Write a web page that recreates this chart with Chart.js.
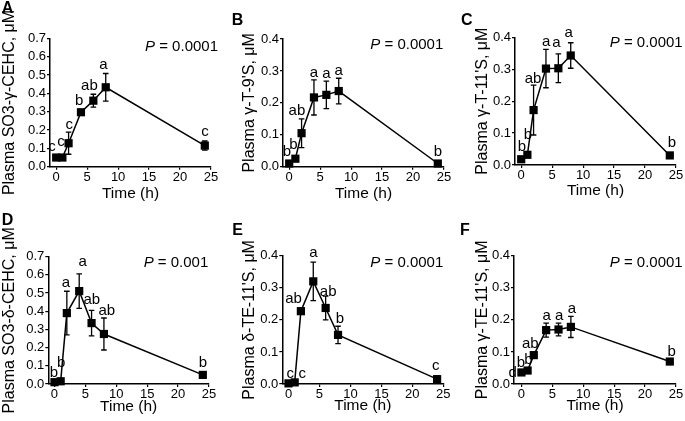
<!DOCTYPE html>
<html><head><meta charset="utf-8">
<script src="https://cdn.jsdelivr.net/npm/chart.js@4/dist/chart.umd.min.js"></script>
<style>
html,body{margin:0;padding:0;background:#fff;}
#wrap{position:relative;width:685px;height:421px;overflow:hidden;background:#fff;}
canvas{position:absolute;}
</style></head>
<body><div id="wrap"></div>
<script>
// ---------- data ----------
const times = [0, 1, 2, 4, 6, 8, 24];
const xTicks = [0, 5, 10, 15, 20, 25];
const yTicks07 = [0, 0.1, 0.2, 0.3, 0.4, 0.5, 0.6, 0.7];
const yTicks04 = [0, 0.1, 0.2, 0.3, 0.4];

const valuesA = [0.05, 0.05, 0.128, 0.297, 0.36, 0.433, 0.115];
const errorsA = [0.006, 0.006, 0.06, 0.01, 0.035, 0.075, 0.025];
const lettersA = ['c', 'c', 'c', 'b', 'ab', 'a', 'c'];
const letterIdxA = [0, 1, 2, 3, 4, 5, 6];

const valuesB = [0.01, 0.025, 0.105, 0.217, 0.225, 0.237, 0.01];
const errorsB = [0.005, 0.005, 0.045, 0.055, 0.043, 0.04, 0.004];
const lettersB = ['b', 'b', 'ab', 'a', 'a', 'a', 'b'];
const letterIdxB = [0, 1, 2, 3, 4, 5, 6];

const valuesC = [0.018, 0.032, 0.172, 0.302, 0.303, 0.343, 0.03];
const errorsC = [0.006, 0.006, 0.078, 0.06, 0.045, 0.04, 0.005];
const lettersC = ['b', 'b', 'ab', 'a', 'a', 'a', 'b'];
const letterIdxC = [0, 1, 2, 3, 4, 5, 6];

const valuesD = [0.01, 0.015, 0.39, 0.511, 0.335, 0.275, 0.05];
const errorsD = [0.005, 0.005, 0.12, 0.095, 0.07, 0.088, 0.008];
const lettersD = ['b', 'b', 'a', 'a', 'ab', 'ab', 'b'];
const letterIdxD = [0, 1, 2, 3, 4, 5, 6];

const valuesE = [0.002, 0.005, 0.227, 0.32, 0.237, 0.153, 0.015];
const errorsE = [0.003, 0.003, 0.01, 0.06, 0.037, 0.027, 0.01];
const lettersE = ['c', 'c', 'ab', 'a', 'ab', 'b', 'c'];
const letterIdxE = [0, 1, 2, 3, 4, 5, 6];

const valuesF = [0.036, 0.042, 0.09, 0.168, 0.17, 0.178, 0.07];
const errorsF = [0.004, 0.005, 0.007, 0.022, 0.02, 0.033, 0.006];
const lettersF = ['d', 'b', 'b', 'ab', 'a', 'a', 'a', 'b'];
const letterIdxF = [0, 0, 1, 2, 3, 4, 5, 6];

const panels = [
  {tag:'A', yTitle:'Plasma SO3-\u03b3-CEHC, \u03bcM', pText:'= 0.0001', yMax:0.7, yTicks:yTicks07, values:valuesA, errors:errorsA, letters:lettersA, letterIdx:letterIdxA},
  {tag:'B', yTitle:"Plasma \u03b3-T-9'S, \u03bcM", pText:'= 0.0001', yMax:0.4, yTicks:yTicks04, values:valuesB, errors:errorsB, letters:lettersB, letterIdx:letterIdxB},
  {tag:'C', yTitle:"Plasma \u03b3-T-11'S, \u03bcM", pText:'= 0.0001', yMax:0.4, yTicks:yTicks04, values:valuesC, errors:errorsC, letters:lettersC, letterIdx:letterIdxC},
  {tag:'D', yTitle:'Plasma SO3-\u03b4-CEHC, \u03bcM', pText:'= 0.001', yMax:0.7, yTicks:yTicks07, values:valuesD, errors:errorsD, letters:lettersD, letterIdx:letterIdxD},
  {tag:'E', yTitle:"Plasma \u03b4-TE-11'S, \u03bcM", pText:'= 0.0001', yMax:0.4, yTicks:yTicks04, values:valuesE, errors:errorsE, letters:lettersE, letterIdx:letterIdxE},
  {tag:'F', yTitle:"Plasma \u03b3-TE-11'S, \u03bcM", pText:'= 0.0001', yMax:0.4, yTicks:yTicks04, values:valuesF, errors:errorsF, letters:lettersF, letterIdx:letterIdxF}
];

// ---------- layout (positions / styles only) ----------
const layouts = [
  {x:0,   y:0,   w:228, h:210, left:50,   right:211,   top:38.3, bottom:166.7, xMin:-1,   yTitleC:10, xTitleC:194,   pRight:218,   pY:47,   tagX:1.7, tagY:13,
   off:[[-4.3,-2.6],[-1.5,-7.6],[0.6,-3.2],[-1.8,-3.2],[-3.9,-3.8],[-2.3,-4.4],[0.2,-4.7]]},
  {x:228, y:0,   w:228, h:210, left:55,   right:216,   top:39,   bottom:166.7, xMin:-1,   yTitleC:22, xTitleC:193.5, pRight:215.3, pY:45,   tagX:3.7, tagY:25,
   off:[[-2.3,-3.8],[-2,-5.7],[-4.7,-4.1],[0,-3],[0,-3],[0,-3],[0,-3]]},
  {x:456, y:0,   w:229, h:210, left:59,   right:220,   top:37.3, bottom:165,   xMin:-1,   yTitleC:27, xTitleC:191,   pRight:226.7, pY:43.3, tagX:5,   tagY:25,
   off:[[0.8,-4.6],[0.6,-12],[-0.6,-2.2],[0.2,-3],[-1.9,-7],[-2,-5.4],[2.2,-4]]},
  {x:0,   y:210, w:228, h:211, left:48.3, right:209,   top:46.7, bottom:174,   xMin:-1,   yTitleC:10, xTitleC:196.5, pRight:208.3, pY:53.3, tagX:1.7, tagY:15,
   off:[[-0.6,-1],[0.5,-10],[-1,-4.7],[3.4,-7.4],[0.2,-6.5],[2.8,-3],[0,-3.7]]},
  {x:228, y:210, w:228, h:211, left:54.3, right:215.3, top:45.7, bottom:174,   xMin:-1,   yTitleC:22, xTitleC:195.5, pRight:215.3, pY:53.3, tagX:4.3, tagY:25,
   off:[[1.7,-1.2],[7.5,-0.2],[-7.4,-4.2],[0.2,-4.8],[2.5,-0.6],[2,-3.6],[-1.3,-5]]},
  {x:456, y:210, w:229, h:211, left:58,   right:220,   top:45.7, bottom:174,   xMin:-1.2, yTitleC:27, xTitleC:195.5, pRight:226.7, pY:53.3, tagX:4,   tagY:25,
   off:[[-8.7,8.7],[-0.4,-1.3],[0.8,-2.8],[-3.5,-2.9],[0.6,-3],[0.6,-3],[1,-3.1],[1.9,-1.3]]}
];

const FONT = '"Liberation Sans", Arial, Helvetica, sans-serif';
const INK = '#000';
const MARK_HALF = 4.1;

const annot = {
  id: 'annot',
  beforeDatasetsDraw(chart, args, opts) {
    const p = opts.panel;
    const xs = chart.scales.x, ys = chart.scales.y, ctx = chart.ctx;
    ctx.save();
    ctx.strokeStyle = INK; ctx.lineWidth = 1.3;
    times.forEach((t, i) => {
      const x = xs.getPixelForValue(t);
      const y1 = ys.getPixelForValue(p.values[i] + p.errors[i]);
      const y2 = ys.getPixelForValue(p.values[i] - p.errors[i]);
      ctx.beginPath();
      ctx.moveTo(x, y1); ctx.lineTo(x, y2);
      ctx.moveTo(x - 2.8, y1); ctx.lineTo(x + 2.8, y1);
      ctx.moveTo(x - 2.8, y2); ctx.lineTo(x + 2.8, y2);
      ctx.stroke();
    });
    ctx.restore();
  },
  afterDatasetsDraw(chart, args, opts) {
    const p = opts.panel, L = opts.lay;
    const xs = chart.scales.x, ys = chart.scales.y, ctx = chart.ctx;
    ctx.save();
    ctx.fillStyle = INK;
    // significance letters
    ctx.font = '15px ' + FONT;
    ctx.textAlign = 'center'; ctx.textBaseline = 'alphabetic';
    p.letters.forEach((txt, k) => {
      const i = p.letterIdx[k];
      const x = xs.getPixelForValue(times[i]);
      const yc = ys.getPixelForValue(p.values[i]);
      const ye = ys.getPixelForValue(p.values[i] + p.errors[i]);
      const base = Math.min(ye, yc - MARK_HALF);
      const o = L.off[k] || [0, -3];
      ctx.fillText(txt, x + o[0], base + o[1]);
    });
    // P value
    ctx.textBaseline = 'middle'; ctx.textAlign = 'right';
    ctx.font = '15px ' + FONT;
    const rest = ' ' + p.pText;
    ctx.fillText(rest, L.pRight, L.pY);
    const wRest = ctx.measureText(rest).width;
    ctx.font = 'italic 15px ' + FONT;
    ctx.fillText('P', L.pRight - wRest, L.pY);
    // panel tag
    ctx.textAlign = 'left'; ctx.textBaseline = 'alphabetic';
    ctx.font = 'bold 16px ' + FONT;
    ctx.fillText(p.tag, L.tagX, L.tagY);
    ctx.restore();
  }
};

const wrap = document.getElementById('wrap');
const Y_TITLE = 16, X_TITLE = 15.5;

panels.forEach((p, n) => {
  const L = layouts[n];
  const c = document.createElement('canvas');
  c.width = L.w; c.height = L.h;
  c.style.left = L.x + 'px'; c.style.top = L.y + 'px';
  c.style.width = L.w + 'px'; c.style.height = L.h + 'px';
  wrap.appendChild(c);
  const axisCommon = {
    grid: {display: true, drawOnChartArea: false, drawTicks: true, tickLength: 3, color: INK, lineWidth: 1.2},
    border: {display: true, color: INK, width: 1.5}
  };
  new Chart(c, {
    type: 'scatter',
    data: {datasets: [{
      data: times.map((t, i) => ({x: t, y: p.values[i]})),
      showLine: true, borderColor: INK, borderWidth: 1.5, backgroundColor: INK,
      pointStyle: 'rect', pointRadius: 5.8, pointHoverRadius: 5.8, pointBorderWidth: 0,
      pointBackgroundColor: INK, clip: false, tension: 0
    }]},
    options: {
      responsive: false, animation: false, devicePixelRatio: 1, events: [],
      layout: {padding: {left: 0, top: L.top, right: L.w - L.right, bottom: 0}},
      plugins: {legend: {display: false}, tooltip: {enabled: false}, annot: {panel: p, lay: L}},
      scales: {
        x: Object.assign({}, axisCommon, {
          type: 'linear', min: L.xMin, max: 25,
          afterBuildTicks: s => { s.ticks = xTicks.map(v => ({value: v})); },
          afterFit: s => { s.height = L.h - L.bottom; },
          ticks: {color: INK, font: {family: FONT, size: 13}, padding: 0, maxRotation: 0, autoSkip: false,
                  callback: v => String(v)},
          title: {display: true, text: 'Time (h)', color: INK, font: {family: FONT, size: X_TITLE},
                  padding: {top: 0, bottom: L.h - L.xTitleC - X_TITLE * 0.6}}
        }),
        y: Object.assign({}, axisCommon, {
          type: 'linear', min: 0, max: p.yMax,
          afterBuildTicks: s => { s.ticks = p.yTicks.map(v => ({value: v})); },
          afterFit: s => { s.width = L.left; },
          ticks: {color: INK, font: {family: FONT, size: 13}, padding: 1, autoSkip: false,
                  callback: v => Number(v).toFixed(1)},
          title: {display: true, text: p.yTitle, color: INK, font: {family: FONT, size: Y_TITLE},
                  padding: {top: L.yTitleC - Y_TITLE * 0.6, bottom: 0}}
        })
      }
    },
    plugins: [annot]
  });
});
</script>
</body></html>
